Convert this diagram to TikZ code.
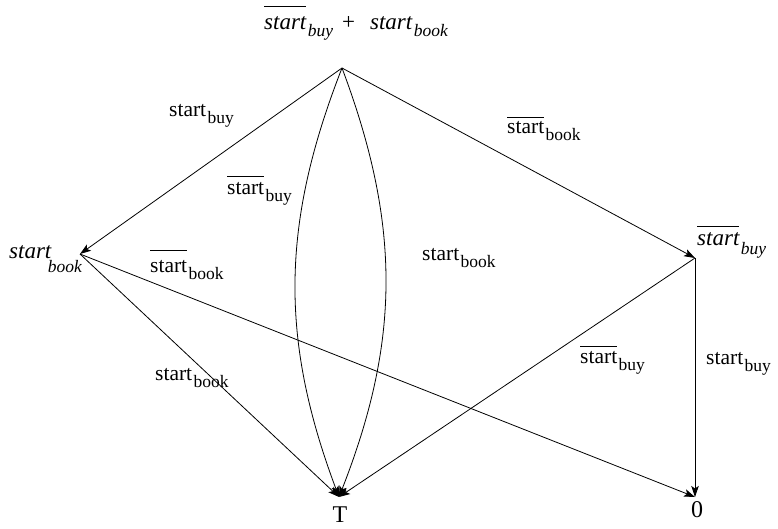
\documentclass[tikz,border=0pt]{standalone}
\usepackage{fontspec}
\setmainfont{Liberation Serif}
\usetikzlibrary{arrows.meta}
\newcommand{\lbl}[3][7pt]{#2\kern1.5pt\raisebox{-#1}{\fontsize{17.5}{17.5}\selectfont #3}}
\newcommand{\ovl}[2][4pt]{\leavevmode\vbox{\hrule height 0.8pt\kern#1\hbox{#2}}}
\begin{document}
\begin{tikzpicture}[x=1pt,y=-1pt,
  edge/.style={draw, line width=0.8pt, -{Stealth[length=11pt,width=7.5pt,inset=2.5pt]}},
  lab/.style={anchor=base west, inner sep=0pt, font=\fontsize{21.5}{21.5}\selectfont},
  ilab/.style={anchor=base west, inner sep=0pt, font=\fontsize{23}{23}\selectfont\itshape},
  term/.style={anchor=base, inner sep=0pt, font=\fontsize{24}{24}\selectfont}]
\useasboundingbox (0,0) rectangle (778,529);
\coordinate (top) at (342,68);
\coordinate (L) at (80,254);
\coordinate (R) at (695,258);
\coordinate (T) at (339,497);
\coordinate (Z) at (695,497);
% edges
\draw[edge] (top) -- (L);
\draw[edge] (top) -- (R);
\draw[edge] (top) to[bend left=21] (T);
\draw[edge] (top) to[bend right=21] (T);
\draw[edge] (L) -- (T);
\draw[edge] (L) -- (Z);
\draw[edge] (R) -- (T);
\draw[edge] (R) -- (Z);
% vertex labels
\node[ilab] (ltop) at (264,30) {\lbl{\ovl[10pt]{start}}{buy}\hspace{9pt}\upshape+\hspace{15pt}\itshape\lbl{start}{book}};
\node[ilab] (lL) at (9,258) {\lbl[14pt]{start}{\kern-5pt book}};
\node[ilab] (lR) at (697,245) {\lbl[9pt]{\ovl[5pt]{start}}{buy}};
\node[term] (lT) at (340,522) {T};
\node[term] (lZ) at (697,517) {0};
% edge labels
\node[lab] (e1) at (169,117) {\lbl{start}{buy}};
\node[lab] (e2) at (507,134) {\lbl{\ovl{start}}{book}};
\node[lab] (e3) at (227,195) {\lbl{\ovl[6pt]{start}}{buy}};
\node[lab] (e4) at (422,260) {\lbl{start}{book}};
\node[lab] (e5) at (150,272) {\lbl{\ovl[9pt]{start}}{book}};
\node[lab] (e6) at (155,380) {\lbl{start}{book}};
\node[lab] (e7) at (580,363) {\lbl{\ovl{start}}{buy}};
\node[lab] (e8) at (706,364) {\lbl{start}{buy}};
\end{tikzpicture}
\end{document}
